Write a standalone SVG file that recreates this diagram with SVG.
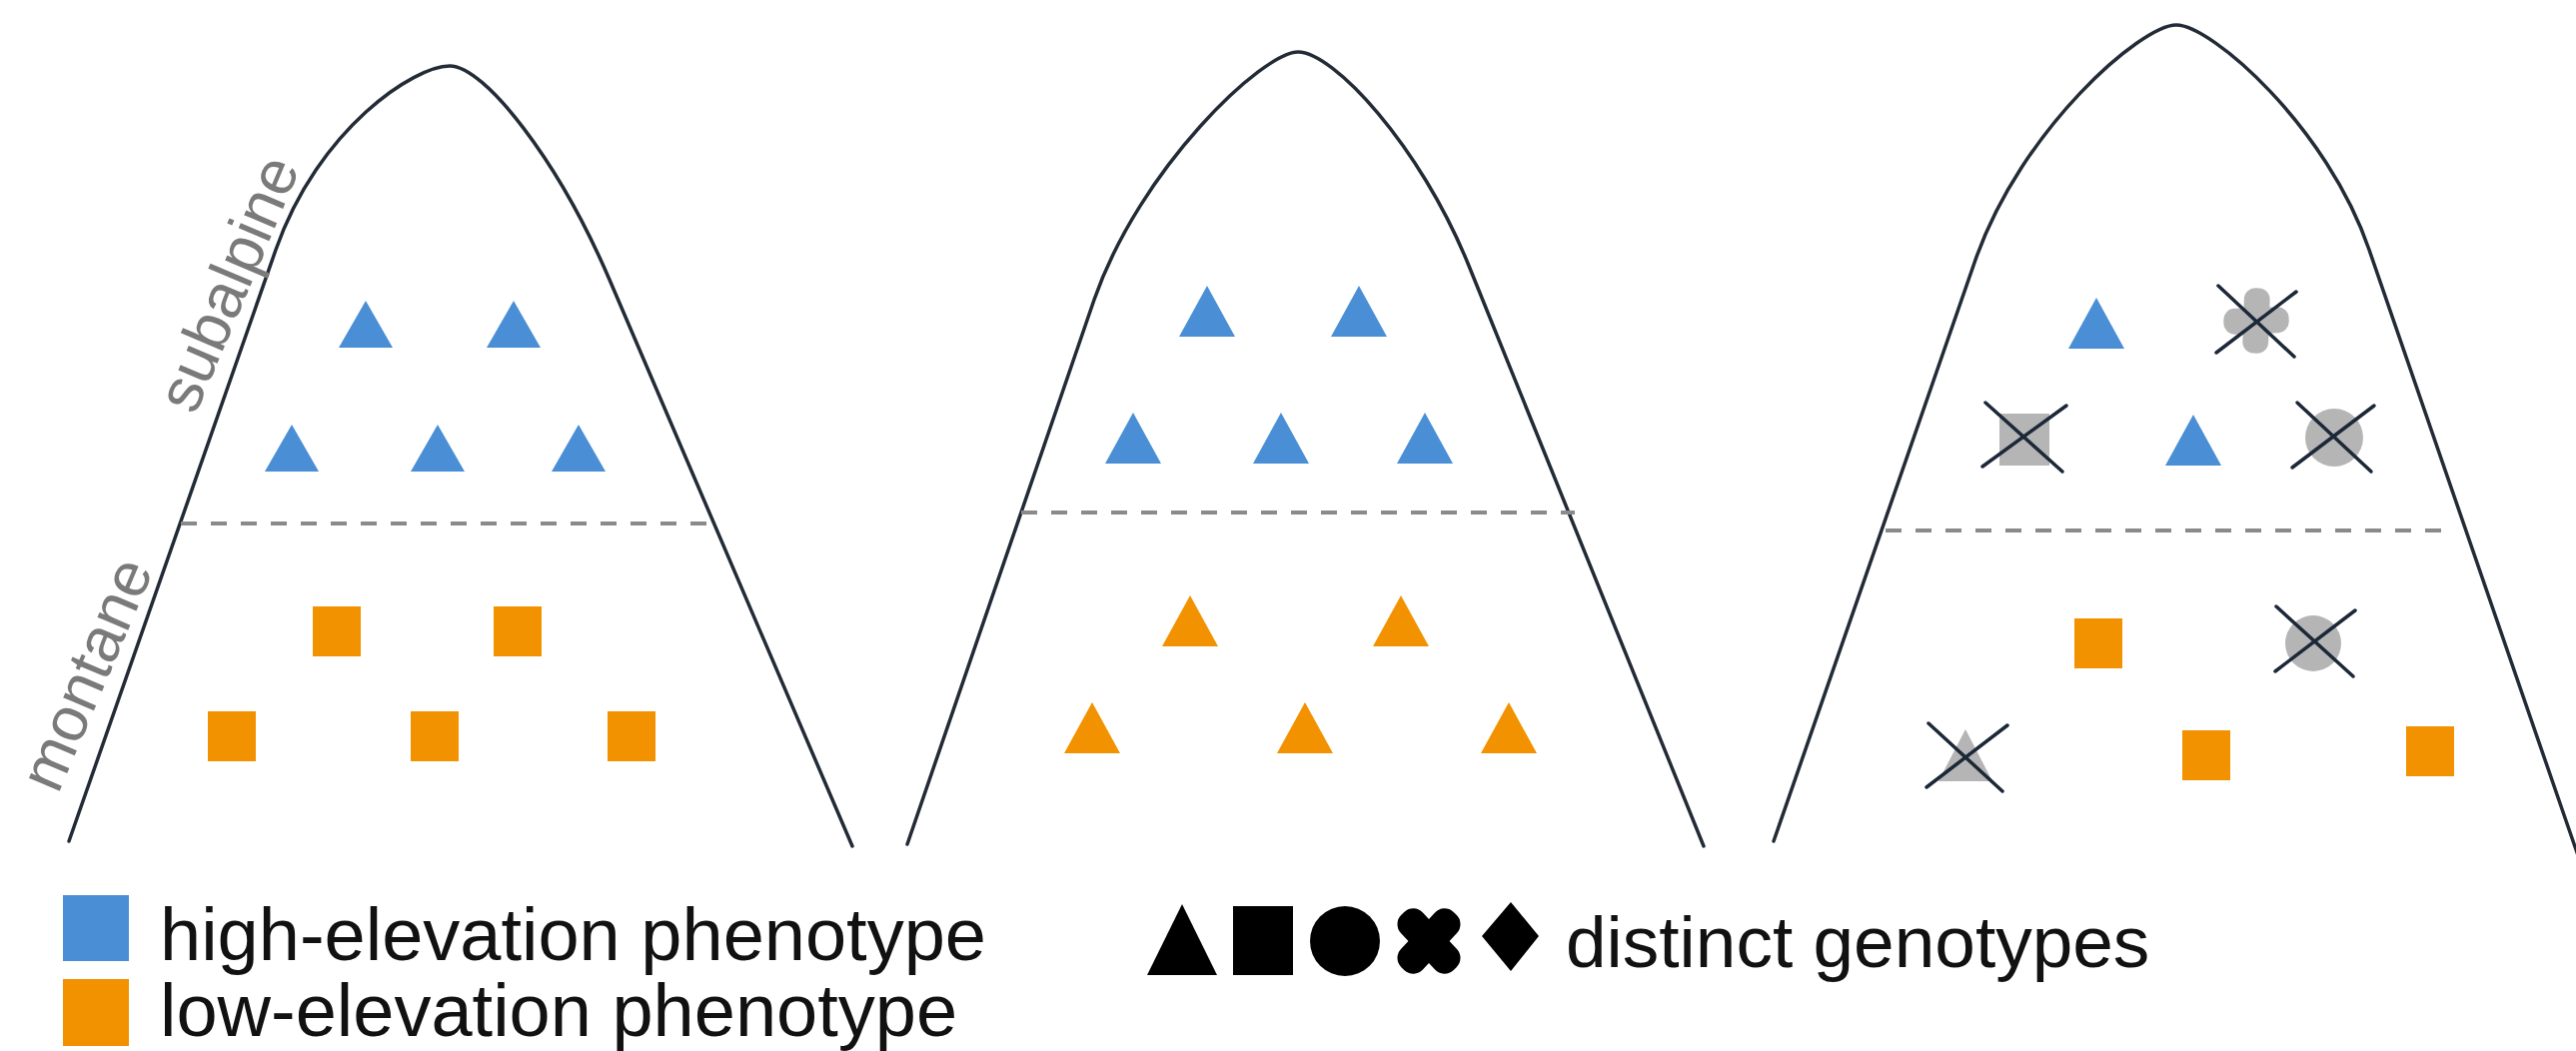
<svg xmlns="http://www.w3.org/2000/svg" xmlns:xlink="http://www.w3.org/1999/xlink" width="2578" height="1052" viewBox="0 0 2578 1052">
<style>
.mtn{fill:none;stroke:#222b36;stroke-width:3.5;stroke-linecap:round;stroke-linejoin:round}
.dash{fill:none;stroke:#8a8a8a;stroke-width:4;stroke-dasharray:16 14}
.blue{fill:#4a8fd6}
.orange{fill:#f39200}
.grey{fill:#b5b5b5}
.xl{stroke:#1c2838;stroke-width:3.5;stroke-linecap:round;fill:none}
.zone{font-family:"Liberation Sans",Arial,sans-serif;font-size:63px;fill:#7a7a7a}
.leg{font-family:"Liberation Sans",Arial,sans-serif;font-size:74px;fill:#111111}
.blk{fill:#000000}
</style>
<defs>
<polygon id="tri" points="-27,0 27,0 0,-47"/>
<polygon id="tri2" points="-28,0 28,0 0,-51"/>
<rect id="sq" x="-24" y="-25" width="48" height="50"/>
<g id="xshape">
<rect x="-38" y="-15" width="76" height="30" rx="13" transform="rotate(47)"/>
<rect x="-38" y="-15" width="76" height="30" rx="13" transform="rotate(-47)"/>
</g>
</defs>
<rect width="2578" height="1052" fill="#ffffff"/>

<g id="panel1">
<path class="mtn" d="M69,842 L276,250 C319,128 415,66 450,66 C485,66 559,161 610,280 L853,847"/>
<line class="dash" x1="181" y1="524" x2="712" y2="524"/>
<text class="zone" text-anchor="middle" transform="translate(248,292) rotate(-67)">subalpine</text>
<text class="zone" text-anchor="middle" transform="translate(106,683) rotate(-67)">montane</text>
<g id="p1-high" class="blue">
<use xlink:href="#tri" transform="translate(366,348)"/>
<use xlink:href="#tri" transform="translate(514,348)"/>
<use xlink:href="#tri" transform="translate(292,472)"/>
<use xlink:href="#tri" transform="translate(438,472)"/>
<use xlink:href="#tri" transform="translate(579,472)"/>
</g>
<g id="p1-low" class="orange">
<use xlink:href="#sq" transform="translate(337,632)"/>
<use xlink:href="#sq" transform="translate(518,632)"/>
<use xlink:href="#sq" transform="translate(232,737)"/>
<use xlink:href="#sq" transform="translate(435,737)"/>
<use xlink:href="#sq" transform="translate(632,737)"/>
</g>
</g>

<g id="panel2">
<path class="mtn" d="M908,845 L1095,300 C1141,168 1264,52 1299,52 C1334,52 1421,145 1470,266 L1705,847"/>
<line class="dash" x1="1022" y1="513" x2="1576" y2="513"/>
<g id="p2-high" class="blue">
<use xlink:href="#tri2" transform="translate(1208,337)"/>
<use xlink:href="#tri2" transform="translate(1360,337)"/>
<use xlink:href="#tri2" transform="translate(1134,464)"/>
<use xlink:href="#tri2" transform="translate(1282,464)"/>
<use xlink:href="#tri2" transform="translate(1426,464)"/>
</g>
<g id="p2-low" class="orange">
<use xlink:href="#tri2" transform="translate(1191,647)"/>
<use xlink:href="#tri2" transform="translate(1402,647)"/>
<use xlink:href="#tri2" transform="translate(1093,754)"/>
<use xlink:href="#tri2" transform="translate(1306,754)"/>
<use xlink:href="#tri2" transform="translate(1510,754)"/>
</g>
</g>

<g id="panel3">
<path class="mtn" d="M1775,842 L1977,260 C2023,129 2143,25 2178,25 C2213,25 2329,127 2371,250 L2583,865"/>
<line class="dash" x1="1887" y1="531" x2="2450" y2="531"/>
<g id="p3-high" class="blue">
<use xlink:href="#tri2" transform="translate(2098,349)"/>
<use xlink:href="#tri2" transform="translate(2195,466)"/>
</g>
<g id="p3-low" class="orange">
<use xlink:href="#sq" transform="translate(2100,644)"/>
<use xlink:href="#sq" transform="translate(2208,756)"/>
<use xlink:href="#sq" transform="translate(2432,752)"/>
</g>
<g id="p3-lost">
<g id="lost1"><use class="grey" xlink:href="#xshape" transform="translate(2258,321) rotate(45) scale(0.86)"/><line class="xl" x1="2220" y1="286" x2="2296" y2="357"/><line class="xl" x1="2218" y1="353" x2="2298" y2="292"/></g>
<g id="lost2"><rect class="grey" x="2001" y="414" width="50" height="52"/><line class="xl" x1="1987" y1="403" x2="2064" y2="472"/><line class="xl" x1="1984" y1="467" x2="2068" y2="406"/></g>
<g id="lost3"><circle class="grey" cx="2336" cy="438" r="29"/><line class="xl" x1="2299" y1="403" x2="2373" y2="472"/><line class="xl" x1="2294" y1="468" x2="2376" y2="406"/></g>
<g id="lost4"><circle class="grey" cx="2315" cy="644" r="28"/><line class="xl" x1="2278" y1="607" x2="2355" y2="677"/><line class="xl" x1="2277" y1="672" x2="2357" y2="611"/></g>
<g id="lost5"><polygon class="grey" points="1940,782 1994,782 1967,730"/><line class="xl" x1="1930" y1="724" x2="2004" y2="792"/><line class="xl" x1="1928" y1="788" x2="2009" y2="726"/></g>
</g>
</g>

<g id="legend-phenotype">
<rect class="blue" x="63" y="896" width="66" height="66"/>
<text class="leg" x="160" y="961">high-elevation phenotype</text>
<rect class="orange" x="63" y="980" width="66" height="67"/>
<text class="leg" x="160" y="1037">low-elevation phenotype</text>
</g>

<g id="legend-genotype" class="blk">
<polygon points="1148,976 1218,976 1183,905"/>
<rect x="1234" y="907" width="60" height="69"/>
<circle cx="1346" cy="942" r="35"/>
<use xlink:href="#xshape" transform="translate(1430,942)"/>
<polygon points="1512,903 1540,937 1512,972 1483,937"/>
<text class="leg" x="1567" y="968" style="font-size:73px">distinct genotypes</text>
</g>
</svg>
